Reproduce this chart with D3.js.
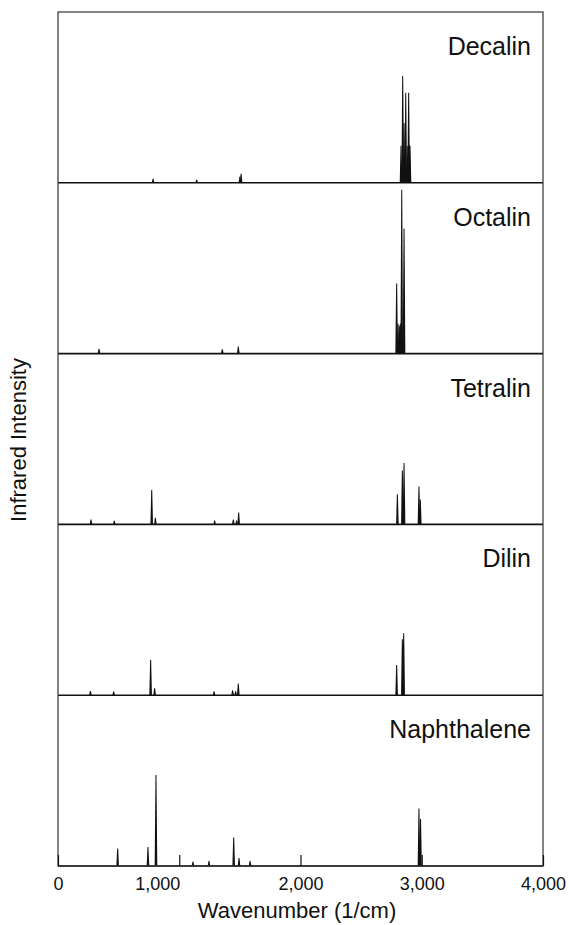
<!DOCTYPE html>
<html><head><meta charset="utf-8">
<script src="https://cdn.jsdelivr.net/npm/d3@7"></script>
<style>
html,body{margin:0;padding:0;background:#fff;}
text{font-family:"Liberation Sans",Arial,Helvetica,sans-serif;fill:#111;}
</style></head>
<body><svg id="c" width="569" height="925"></svg>
<script>
// ---- data ----
const molecules = ["Decalin","Octalin","Tetralin","Dilin","Naphthalene"];
const decalinFreq = [784,1144,1500,1510,2829,2843,2854,2868,2880,2892,2898,2903];
const decalinInt  = [2.3,1.8,3.5,5.3,21.7,62.6,35,52.7,21.7,52.7,21.7,21.7];
const octalinFreq = [338,1355,1487,2793,2804,2815,2826,2835,2854];
const octalinInt  = [2.9,2.5,4.1,41,17.6,16.4,17.6,96,73.2];
const tetralinFreq = [272,464,773,803,1292,1446,1473,1490,2799,2840,2854,2977,2988];
const tetralinInt  = [2.8,2.2,20.1,3.9,2.3,2.8,2.3,6.9,17.6,31.6,36,22.2,14.6];
const dilinFreq = [267,459,764,797,1287,1440,1465,1487,2793,2840,2851];
const dilinInt  = [2.5,2.2,20.7,4.1,2.3,2.9,2.3,6.9,17.7,32.8,36.3];
const naphFreq = [492,742,808,1113,1245,1449,1493,1584,2977,2990];
const naphInt  = [10.3,11.1,53.3,2.5,2.9,16.7,4.7,2.9,33.7,27.5];
const xTicks = [0,1000,2000,3000,4000];
const xTitle = "Wavenumber (1/cm)";
const yTitle = "Infrared Intensity";

const spectra = [
  {name:molecules[0], f:decalinFreq, v:decalinInt},
  {name:molecules[1], f:octalinFreq, v:octalinInt},
  {name:molecules[2], f:tetralinFreq, v:tetralinInt},
  {name:molecules[3], f:dilinFreq, v:dilinInt},
  {name:molecules[4], f:naphFreq, v:naphInt}
];

// ---- layout ----
const L=58, R=543, T=12, B=866;
const svg = d3.select("#c");
const x = d3.scaleLinear().domain([0,4000]).range([L,R]);
const band = d3.scaleBand().domain(molecules).range([T,B]).padding(0);

spectra.forEach(s=>{
  const top = band(s.name), bot = top + band.bandwidth();
  const y = d3.scaleLinear().domain([0,100]).range([bot, top]);
  const g = svg.append("g");
  const peaks = s.f.map((f,i)=>({f, v:s.v[i]}));
  g.selectAll("path").data(peaks).join("path")
    .attr("d", d=>{
      const cx = x(d.f), y0 = y(0), y1 = y(d.v);
      return `M${cx-1.3},${y0}L${cx-0.5},${y1}L${cx+0.5},${y1}L${cx+1.3},${y0}Z`;
    })
    .attr("fill","#111");
  g.append("line").attr("x1",L).attr("x2",R).attr("y1",bot).attr("y2",bot)
    .attr("stroke","#111").attr("stroke-width",1.6);
  g.append("text").attr("x",531).attr("y",top+43)
    .attr("text-anchor","end").style("font-size","25px").text(s.name);
});

// frame
svg.append("rect").attr("x",L).attr("y",T).attr("width",R-L).attr("height",B-T)
  .attr("fill","none").attr("stroke","#333").attr("stroke-width",1.2);

// x axis with inward ticks
const ax = svg.append("g").attr("transform",`translate(0,${B})`)
  .call(d3.axisBottom(x).tickValues(xTicks).tickSizeInner(-11).tickSizeOuter(0)
        .tickPadding(11).tickFormat(d3.format(",")));
ax.select(".domain").remove();
ax.selectAll(".tick line").attr("stroke","#111").attr("stroke-width",1.2);
ax.selectAll(".tick text").style("font-size","18px").attr("fill","#111")
  .attr("font-family",null);
ax.selectAll(".tick").filter(d=>d===1000).select("text").attr("dx",-22);

svg.append("text").attr("x",297).attr("y",918).attr("text-anchor","middle")
  .style("font-size","22px").text(xTitle);
svg.append("text").attr("transform","translate(26,440) rotate(-90)")
  .attr("text-anchor","middle").style("font-size","22px").text(yTitle);
</script></body></html>
